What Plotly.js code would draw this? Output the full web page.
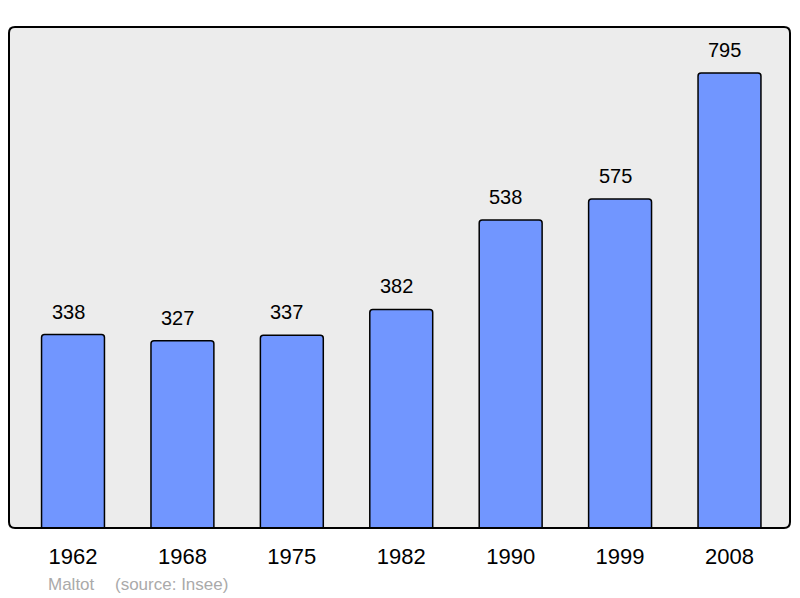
<!DOCTYPE html>
<html>
<head>
<meta charset="utf-8">
<script src="https://cdn.plot.ly/plotly-3.0.1.min.js"></script>
<style>
html,body{margin:0;padding:0;background:#fff;}
#chart{width:800px;height:598px;}
</style>
</head>
<body>
<div id="chart"></div>
<script>
const years = ["1962", "1968", "1975", "1982", "1990", "1999", "2008"];
const population = [338, 327, 337, 382, 538, 575, 795];
const placeName = "Maltot";
const sourceText = "(source: Insee)";

const W = 800, H = 598;
const L = 9, R = 10, T = 27, B = 70;
const pw = W - L - R, ph = H - T - B;
const rad = 6;
const rx = rad / pw, ry = rad / ph;

const borderPath =
  `M ${rx},0 L ${1 - rx},0 Q 1,0 1,${ry} L 1,${1 - ry} Q 1,1 ${1 - rx},1 ` +
  `L ${rx},1 Q 0,1 0,${1 - ry} L 0,${ry} Q 0,0 ${rx},0 Z`;

const trace = {
  type: 'bar',
  x: years,
  y: population,
  width: 0.575,
  marker: {
    color: '#7196ff',
    line: {color: '#000000', width: 1.5},
    cornerradius: 3
  },
  hoverinfo: 'none'
};

const valueAnnotations = years.map((yr, i) => ({
  x: i, y: population[i], xref: 'x', yref: 'y',
  text: String(population[i]),
  showarrow: false, yanchor: 'bottom', yshift: 10, xshift: -5,
  font: {family: 'Liberation Sans, Arial, sans-serif', size: 20, color: '#000'}
}));

const footerFont = {family: 'Liberation Sans, Arial, sans-serif', size: 17, color: '#aaaaaa'};

const layout = {
  width: W, height: H,
  margin: {l: L, r: R, t: T, b: B, pad: 0},
  paper_bgcolor: '#ffffff',
  plot_bgcolor: '#ececec',
  showlegend: false,
  xaxis: {
    type: 'category',
    range: [-0.585, 6.553],
    showgrid: false, zeroline: false, showline: false,
    ticks: '', ticklen: 0,
    tickfont: {family: 'Liberation Sans, Arial, sans-serif', size: 22, color: '#000'},
    ticklabelstandoff: 13,
    fixedrange: true
  },
  yaxis: {
    range: [0, 875.4],
    showgrid: false, zeroline: false, showline: false,
    showticklabels: false, ticks: '',
    fixedrange: true
  },
  shapes: [{
    type: 'path', xref: 'paper', yref: 'paper',
    path: borderPath,
    line: {color: '#000', width: 2},
    fillcolor: 'rgba(0,0,0,0)',
    layer: 'above'
  }],
  annotations: valueAnnotations.concat([
    {
      xref: 'paper', yref: 'paper',
      x: (46 - L) / pw, y: -(584 - (T + ph)) / ph,
      xanchor: 'left', yanchor: 'middle',
      text: placeName, showarrow: false,
      font: footerFont
    },
    {
      xref: 'paper', yref: 'paper',
      x: (113 - L) / pw, y: -(584 - (T + ph)) / ph,
      xanchor: 'left', yanchor: 'middle',
      text: sourceText, showarrow: false,
      font: footerFont
    }
  ])
};

Plotly.newPlot('chart', [trace], layout, {staticPlot: true, displayModeBar: false});
</script>
</body>
</html>
